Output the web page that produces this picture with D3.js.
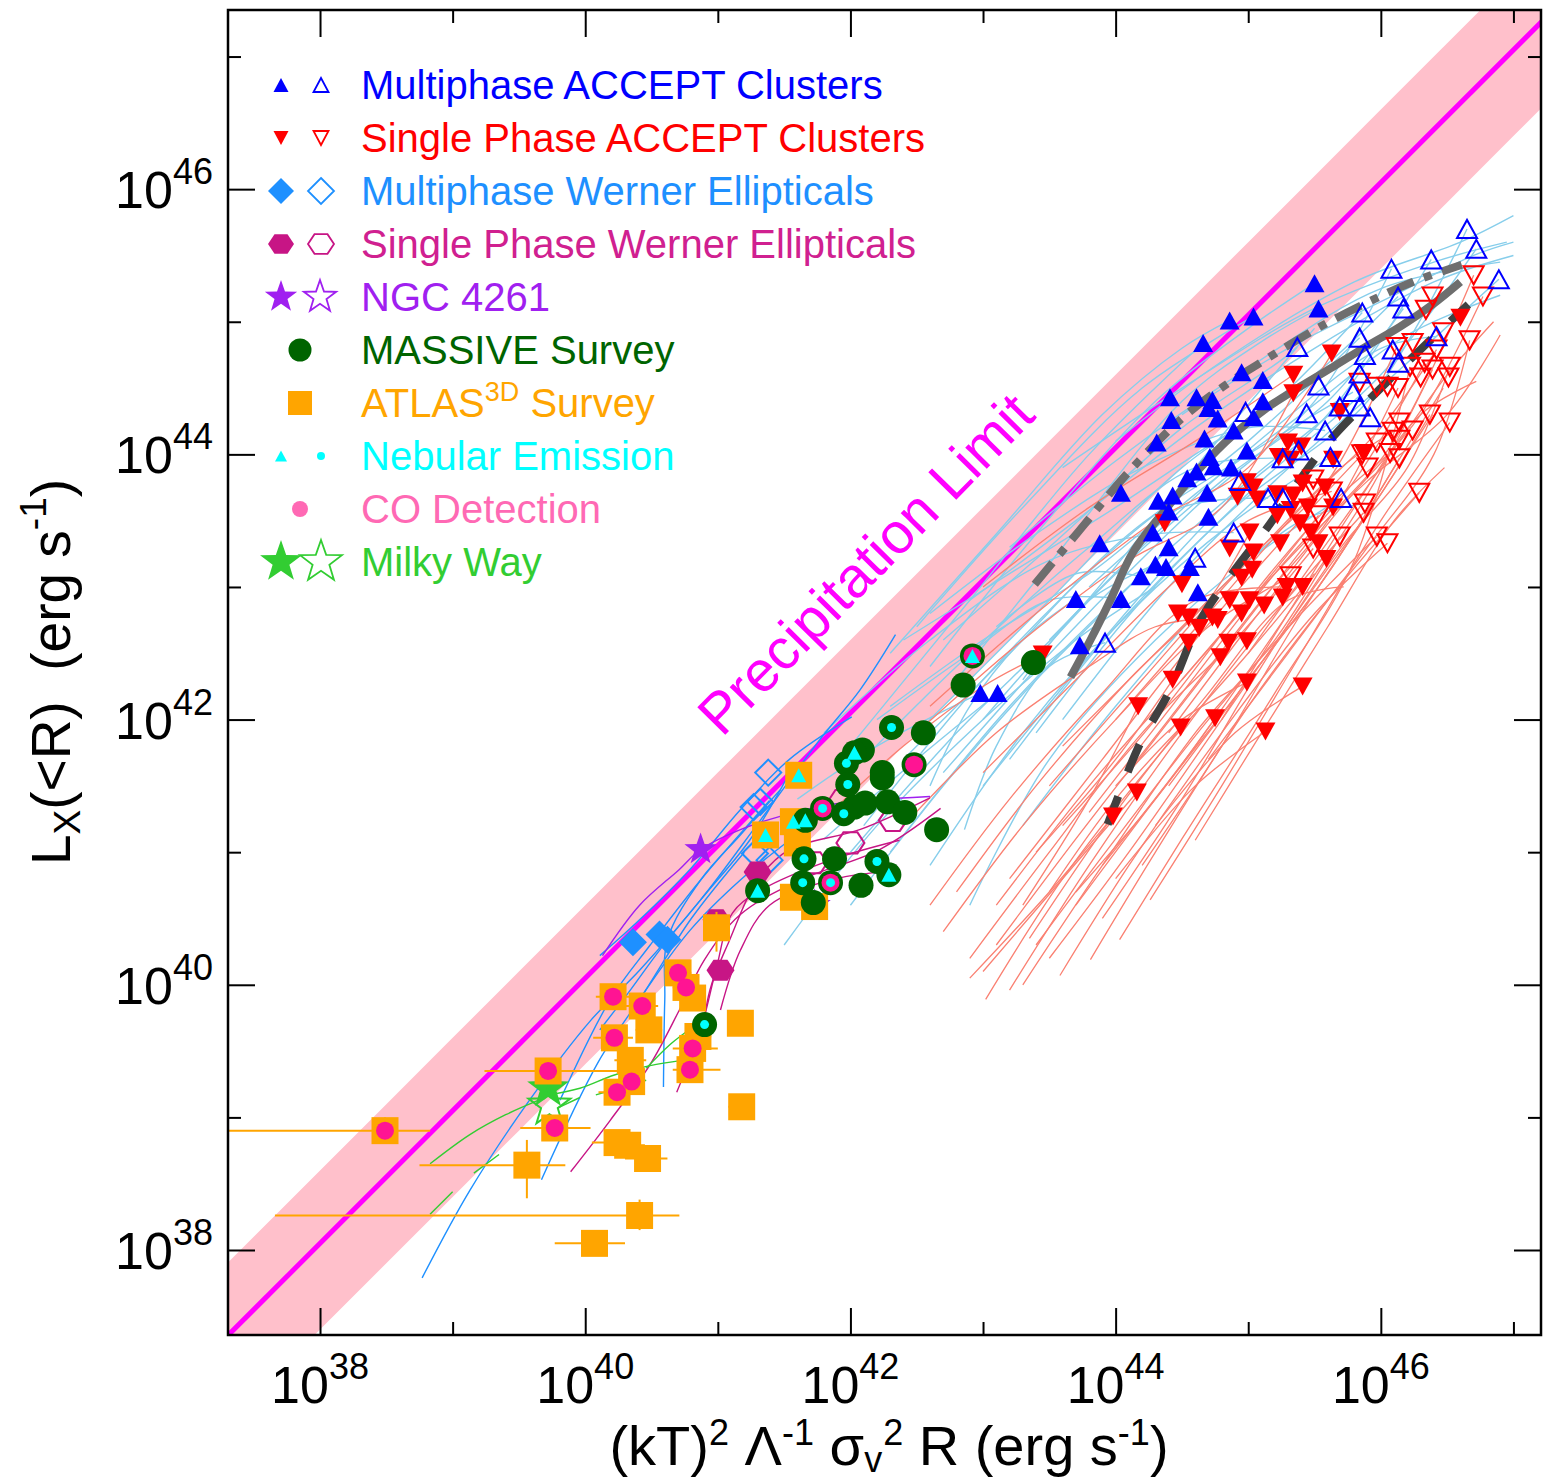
<!DOCTYPE html>
<html>
<head>
<meta charset="utf-8">
<script src="https://cdn.jsdelivr.net/npm/d3@7"></script>
<style>
body { margin: 0; background: #fff; }
svg { display: block; font-family: "Liberation Sans", Arial, Helvetica, sans-serif; }
</style>
</head>
<body>
<div id="chart"></div>
<script>
"use strict";

// all values are log10 of erg/s : [log x, log y]
var xTicksMajor = [38, 40, 42, 44, 46];
var xTicksMinor = [39, 41, 43, 45, 47];
var yTicksMajor = [38, 40, 42, 44, 46];
var yTicksMinor = [39, 41, 43, 45, 47];

var multiFilled = [[45.50,45.29],[45.53,45.10],[44.86,45.01],[45.04,45.04],[44.66,44.84],[44.95,44.62],[45.11,44.56],[44.41,44.43],[44.61,44.43],[44.73,44.41],[44.70,44.35],[44.77,44.27],[44.42,44.26],[45.11,44.40],[45.04,44.28],[44.89,44.18],[44.67,44.12],[44.31,44.09],[44.99,44.03],[44.71,43.98],[44.74,43.91],[44.87,43.90],[44.61,43.87],[44.54,43.82],[44.04,43.71],[44.43,43.69],[44.32,43.65],[44.40,43.57],[44.69,43.71],[44.70,43.53],[44.28,43.41],[43.88,43.33],[44.40,43.30],[44.30,43.17],[44.38,43.15],[44.56,43.15],[44.19,43.08],[44.62,42.96],[44.04,42.91],[43.70,42.91],[43.73,42.56],[42.98,42.20],[43.11,42.20]];
var multiOpen = [[46.65,45.70],[46.72,45.55],[46.38,45.47],[46.08,45.40],[46.89,45.32],[46.13,45.19],[46.17,45.10],[45.86,45.07],[45.84,44.88],[45.37,44.81],[45.88,44.75],[46.09,44.79],[46.42,44.89],[46.13,44.69],[45.84,44.61],[45.53,44.52],[45.79,44.47],[45.69,44.36],[45.84,44.36],[45.44,44.31],[45.92,44.28],[44.98,44.32],[45.58,44.18],[45.38,44.03],[45.26,43.97],[45.62,43.98],[44.94,43.80],[45.15,43.67],[45.26,43.67],[45.70,43.67],[44.89,43.41],[44.60,43.22],[43.92,42.58]];
var singleFilled = [[45.63,44.76],[45.34,44.60],[45.34,44.46],[45.69,44.32],[46.60,45.03],[45.30,44.09],[45.40,44.06],[45.23,43.98],[45.32,43.96],[44.99,43.79],[45.04,43.75],[44.92,43.68],[45.07,43.66],[45.22,43.70],[45.34,43.69],[45.41,43.78],[45.58,43.75],[45.64,43.60],[45.45,43.60],[45.32,43.58],[45.22,43.54],[45.39,43.48],[45.47,43.41],[45.53,43.33],[45.59,43.21],[45.01,43.41],[45.24,43.33],[44.86,43.29],[45.04,43.26],[45.03,43.13],[44.95,43.07],[44.50,43.02],[45.29,43.00],[45.41,43.00],[45.26,42.92],[45.01,42.90],[44.95,42.80],[44.47,42.80],[44.55,42.77],[44.73,42.77],[44.77,42.75],[45.87,44.01],[45.64,43.96],[44.37,43.48],[44.43,42.30],[44.17,42.10],[44.49,41.94],[44.75,42.01],[44.99,42.28],[45.41,42.25],[45.13,41.91],[44.16,41.45],[43.98,41.27],[44.79,42.47],[44.99,42.59],[44.85,42.58],[44.55,42.58],[43.45,42.49],[44.63,42.69],[45.12,42.86],[44.86,42.90]];
var singleOpen = [[46.70,45.35],[46.77,45.19],[46.39,45.19],[46.34,45.09],[46.47,44.92],[46.67,44.86],[46.24,44.84],[46.12,44.81],[46.42,44.79],[46.22,44.66],[46.33,44.69],[46.39,44.64],[46.52,44.66],[46.30,44.58],[46.51,44.58],[45.97,44.51],[46.05,44.51],[46.13,44.50],[45.84,44.54],[46.37,44.30],[46.52,44.24],[46.14,44.24],[46.24,44.18],[46.09,44.17],[46.14,44.11],[45.97,44.09],[46.07,44.01],[46.14,43.97],[45.86,44.00],[45.90,43.90],[46.29,43.71],[45.88,43.63],[45.87,43.56],[45.69,43.38],[45.97,43.38],[46.05,43.33],[45.49,43.81],[45.50,43.72],[45.63,43.72],[45.53,43.54],[45.49,43.29],[45.32,43.08]];

// surface brightness profiles of the clusters
var multiTracks = [
  [[44.0,44.1],[44.8,44.7],[45.8,45.3],[46.6,45.6],[47.0,45.8]],
  [[43.6,43.9],[44.5,44.5],[45.5,45.1],[46.4,45.45],[46.95,45.6]],
  [[43.2,43.3],[44.0,43.95],[45.0,44.65],[46.0,45.25],[46.9,45.45]],
  [[42.7,42.6],[43.5,43.3],[44.5,44.2],[45.3,44.75],[45.5,44.95]],
  [[42.6,42.4],[43.4,43.4],[44.3,44.4],[45.0,44.95],[45.5,45.29]],
  [[42.8,42.3],[43.6,43.3],[44.5,44.4],[45.1,44.85],[45.53,45.1]],
  [[42.3,42.5],[43.1,43.4],[43.9,44.3],[44.5,44.8],[44.86,45.01]],
  [[42.5,42.7],[43.3,43.6],[44.2,44.5],[45.04,45.04]],
  [[42.0,41.8],[42.9,42.9],[43.8,44.0],[44.66,44.84]],
  [[42.5,41.9],[43.5,42.9],[44.5,43.9],[45.5,44.6],[46.13,45.19]],
  [[42.7,41.6],[43.6,42.6],[44.6,43.6],[45.5,44.4],[46.08,45.40]],
  [[43.0,41.5],[43.9,42.6],[44.8,43.6],[45.6,44.3],[46.38,45.47]],
  [[43.2,41.7],[44.0,42.7],[44.9,43.6],[45.9,44.4],[46.65,45.70]],
  [[43.4,41.9],[44.2,42.9],[45.1,43.8],[46.0,44.6],[46.72,45.55]],
  [[43.6,42.0],[44.4,43.0],[45.2,43.8],[46.1,44.6],[46.89,45.32]],
  [[42.1,41.2],[43.0,42.3],[44.0,43.3],[45.0,44.1],[45.84,44.88]],
  [[42.3,41.0],[43.2,42.1],[44.2,43.1],[45.0,43.8],[45.69,44.36]],
  [[41.9,41.5],[42.8,42.4],[43.8,43.3],[44.6,43.9],[45.26,43.97]],
  [[42.6,40.9],[43.3,41.9],[44.1,42.8],[44.9,43.5],[45.62,43.98]],
  [[42.9,40.6],[43.5,41.7],[44.3,42.6],[45.0,43.2],[45.7,43.67]],
  [[41.8,41.9],[42.6,42.6],[43.5,43.2],[44.3,43.4],[44.89,43.41]],
  [[41.6,41.4],[42.2,41.8],[42.98,42.2]],
  [[41.8,41.1],[42.5,41.7],[43.11,42.2]],
  [[42.86,41.17],[43.1,41.8],[43.5,42.4],[43.92,42.58]],
  [[42.6,41.5],[42.9,42.1],[43.3,42.6],[43.70,42.91]],
  [[42.2,42.0],[42.9,42.5],[43.5,42.9],[44.04,42.91]],
  [[43.3,42.3],[43.8,42.9],[44.30,43.17]],
  [[43.1,42.7],[43.7,43.1],[44.19,43.08]],
  [[42.4,42.6],[43.2,43.1],[44.0,43.6],[44.6,44.0],[45.2,44.4],[45.86,45.07]],
  [[43.5,42.6],[44.3,43.4],[45.2,44.2],[46.0,44.8],[46.42,44.89]],
  [[43.0,42.0],[43.9,43.0],[44.8,43.8],[45.6,44.4],[46.17,45.10]],
  [[42.9,42.9],[43.7,43.5],[44.6,44.2],[45.5,44.8],[46.4,45.3],[47.0,45.5]],
  [[43.8,43.0],[44.6,43.7],[45.4,44.3],[46.2,44.9],[46.9,45.2]],
  [[42.4,41.7],[43.2,42.5],[44.1,43.4],[45.0,44.0],[45.79,44.47]],
  [[42.0,41.0],[42.8,41.9],[43.7,42.8],[44.6,43.9],[45.37,44.81]],
  [[43.3,41.2],[44.0,42.1],[44.8,43.0],[45.4,43.5],[45.88,43.63]],
  [[41.5,40.3],[42.2,41.2],[43.0,42.0],[43.7,42.6],[44.3,43.0]],
  [[42.0,40.6],[42.7,41.5],[43.4,42.3],[44.0,42.9],[44.4,43.3]],
  [[42.3,42.1],[43.0,42.6],[43.8,43.1],[44.5,43.6],[45.15,43.67]],
  [[42.6,42.8],[43.4,43.4],[44.2,43.9],[45.0,44.2],[45.58,44.18]],
  [[44.5,44.3],[45.3,44.8],[46.1,45.2],[46.7,45.5],[47.0,45.6]]
];
var singleTracks = [
  [[43.02,39.89],[43.6,40.8],[44.3,41.7],[45.0,42.5],[45.5,43.1]],
  [[43.2,39.96],[43.8,40.9],[44.5,41.9],[45.2,42.8],[45.87,43.56]],
  [[43.58,40.07],[44.1,40.9],[44.8,41.9],[45.5,42.8],[46.05,43.33]],
  [[43.81,40.19],[44.3,41.0],[45.0,42.1],[45.6,42.9],[46.29,43.71]],
  [[44.03,40.34],[44.5,41.1],[45.2,42.2],[45.8,43.2],[46.22,44.66]],
  [[44.26,40.64],[44.8,41.5],[45.4,42.5],[46.0,43.5],[46.52,44.24]],
  [[44.6,41.09],[45.1,41.9],[45.6,42.7],[46.1,43.5],[46.48,43.9]],
  [[42.7,40.4],[43.3,41.2],[44.0,42.0],[44.7,42.7],[45.32,43.08]],
  [[42.9,40.2],[43.5,41.0],[44.2,41.9],[44.9,42.6],[45.49,43.29]],
  [[43.3,40.0],[43.9,40.9],[44.6,41.9],[45.2,42.6],[45.69,43.38]],
  [[43.4,40.3],[44.0,41.1],[44.7,42.0],[45.4,42.8],[45.97,43.38]],
  [[43.7,40.6],[44.3,41.4],[45.0,42.3],[45.6,43.1],[46.14,43.97]],
  [[43.9,40.9],[44.6,41.8],[45.3,42.8],[45.9,43.7],[46.39,44.64]],
  [[42.9,40.05],[43.5,40.7],[43.98,41.27]],
  [[43.0,40.1],[43.6,40.8],[44.16,41.45]],
  [[43.3,40.6],[43.8,41.4],[44.17,42.1]],
  [[43.5,40.7],[44.0,41.4],[44.49,41.94]],
  [[43.7,40.7],[44.3,41.4],[44.75,42.01]],
  [[44.0,40.8],[44.6,41.5],[45.13,41.91]],
  [[44.3,41.2],[44.9,41.9],[45.41,42.25]],
  [[43.4,41.0],[44.0,41.7],[44.43,42.30]],
  [[44.0,41.5],[44.5,42.0],[44.99,42.28]],
  [[41.8,41.25],[42.4,41.8],[43.0,42.25],[43.45,42.49]],
  [[42.5,41.9],[43.3,42.6],[44.1,43.2],[44.8,43.6],[45.34,44.46]],
  [[43.0,43.0],[43.8,43.6],[44.6,44.1],[45.34,44.60]],
  [[42.6,42.1],[43.4,42.8],[44.3,43.5],[45.0,43.9],[45.63,44.76]],
  [[43.5,41.5],[44.2,42.3],[45.0,43.2],[45.6,43.8],[46.12,44.81]],
  [[43.8,41.3],[44.5,42.2],[45.2,43.1],[45.8,43.8],[46.33,44.69]],
  [[44.1,41.6],[44.8,42.5],[45.5,43.4],[46.1,44.1],[46.70,45.35]],
  [[44.4,41.9],[45.0,42.7],[45.7,43.6],[46.3,44.3],[46.77,45.19]],
  [[44.0,42.0],[44.7,42.8],[45.4,43.6],[46.0,44.2],[46.42,44.79]],
  [[43.6,41.8],[44.4,42.6],[45.1,43.3],[45.7,43.9],[46.09,44.17]],
  [[44.7,41.7],[45.3,42.5],[45.9,43.3],[46.4,44.0],[46.67,44.86]],
  [[43.1,40.6],[43.8,41.5],[44.5,42.3],[45.1,43.0],[45.53,43.54]],
  [[42.8,40.7],[43.4,41.5],[44.1,42.3],[44.7,42.9],[45.01,43.41]],
  [[43.35,40.35],[44.0,41.3],[44.7,42.2],[45.3,42.9],[45.72,43.0]],
  [[44.5,42.3],[45.2,43.1],[45.9,43.8],[46.5,44.3],[46.9,44.9]],
  [[43.1,40.3],[43.7,41.1],[44.4,42.0],[45.1,42.9],[45.6,43.5],[46.13,44.50]],
  [[43.5,40.2],[44.1,41.0],[44.8,42.0],[45.5,43.0],[46.0,43.7],[46.37,44.30]],
  [[43.9,40.5],[44.5,41.4],[45.1,42.4],[45.7,43.3],[46.2,43.9],[46.52,44.66]],
  [[44.2,40.9],[44.8,41.8],[45.4,42.8],[46.0,43.7],[46.39,44.3]],
  [[44.4,41.5],[45.0,42.3],[45.6,43.1],[46.1,43.9],[46.47,44.5]],
  [[43.2,40.8],[43.9,41.7],[44.6,42.6],[45.3,43.4],[45.86,44.00]],
  [[43.6,41.2],[44.3,42.0],[45.0,42.9],[45.6,43.6],[46.07,44.01]],
  [[42.6,40.6],[43.2,41.4],[43.9,42.2],[44.6,42.9],[45.29,43.00]],
  [[42.4,41.2],[43.1,41.9],[43.8,42.4],[44.3,42.7],[44.73,42.77]],
  [[44.8,42.0],[45.3,42.8],[45.8,43.6],[46.3,44.3],[46.72,44.55]],
  [[45.0,42.5],[45.5,43.2],[46.0,43.9],[46.5,44.6],[46.85,45.0]],
  [[43.0,41.6],[43.7,42.3],[44.4,43.0],[45.0,43.5],[45.63,43.72]]
];

// thick grey median profiles
var medianMulti = [[43.39,43.02],[43.73,43.43],[44.11,43.88],[44.51,44.28],[44.81,44.51],[45.09,44.69],[45.52,44.95],[45.97,45.18],[46.24,45.30],[46.61,45.43]];
var medianAll = [[43.66,42.32],[43.81,42.60],[43.96,42.90],[44.13,43.26],[44.39,43.60],[44.64,43.90],[44.89,44.15],[45.14,44.35],[45.39,44.51],[45.64,44.66],[45.90,44.82],[46.14,44.96],[46.39,45.13],[46.60,45.30]];
var medianSingle = [[43.94,41.21],[44.18,41.81],[44.41,42.22],[44.64,42.75],[44.90,43.13],[45.16,43.47],[45.39,43.81],[45.62,44.11],[45.99,44.49],[46.33,44.82],[46.66,45.13]];

// Werner ellipticals
var wernerMultiFilled = [[40.36,40.32],[40.56,40.38],[40.62,40.34]];
var wernerMultiOpen = [[41.38,41.60],[41.32,41.38],[41.27,41.34],[41.28,40.99],[41.39,40.94]];
var wernerMultiTracks = [
  [[38.77,37.79],[39.13,38.45],[39.58,39.13],[40.04,39.73],[40.41,40.11],[40.87,40.64],[41.32,41.24],[41.77,41.85],[42.07,42.22],[42.34,42.64]],
  [[40.11,40.22],[40.41,40.49],[40.79,40.87],[41.17,41.32],[41.54,41.70],[42.01,42.02]],
  [[40.59,39.23],[40.60,39.89],[40.62,40.34],[40.87,40.79],[41.17,41.13],[41.47,41.47]],
  [[40.11,39.66],[40.34,39.96],[40.56,40.26],[40.87,40.64],[41.24,41.09],[41.51,41.54]],
  [[40.41,39.89],[40.79,40.41],[41.17,40.79],[41.54,41.09]],
  [[39.81,39.13],[40.19,39.89],[40.49,40.30],[40.87,40.79],[41.39,41.39]],
  [[39.67,38.53],[40.1,39.42],[40.45,39.95],[40.8,40.5],[41.2,41.0]]
];
var wernerSingleFilled = [[41.30,40.85],[41.02,40.11],[40.99,40.49]];
var wernerSingleOpen = [[42.00,41.07],[42.32,41.24],[41.94,41.39],[41.72,40.92]];
var wernerSingleTracks = [
  [[39.89,38.59],[40.19,38.98],[40.49,39.40],[40.71,39.81],[40.90,40.19],[41.17,40.53],[41.62,40.79],[42.22,41.02],[42.68,41.33]],
  [[40.69,39.19],[40.87,39.66],[40.99,40.13],[41.11,40.54],[41.32,40.71],[41.85,40.94],[42.37,41.09]],
  [[40.87,39.51],[40.94,39.96],[41.09,40.34],[41.30,40.79],[41.54,41.02],[42.07,41.17],[42.60,41.41]],
  [[41.02,39.81],[41.17,40.26],[41.39,40.60],[41.85,40.79],[42.22,40.85]]
];

// NGC 4261
var ngcFilled = [[40.87,41.02]];
var ngcOpen = [[41.73,40.60]];
var ngcTrack = [[40.13,40.22],[40.41,40.60],[40.71,40.87],[40.87,41.02],[41.17,41.17],[41.47,41.27],[41.85,41.36],[42.60,41.42]];

// Milky Way
var mwFilled = [[39.72,39.22]];
var mwOpen = [[39.73,39.09]];
var mwTracks = [
  [[38.83,38.65],[39.13,38.87],[39.40,39.02],[39.65,39.13]],
  [[38.83,38.27],[39.00,38.44]],
  [[39.16,38.58],[39.35,38.72]],
  [[39.72,39.17],[39.96,39.22],[40.22,39.32],[40.49,39.39],[40.73,39.43]],
  [[40.08,39.17],[40.46,39.28]],
  [[40.46,39.37],[40.64,39.55],[40.81,39.68]],
  [[39.79,39.07],[39.96,39.15]]
];

// MASSIVE survey
var massive = [[42.31,41.94],[42.55,41.90],[41.97,41.67],[42.09,41.77],[42.03,41.75],[42.24,41.60],[42.24,41.56],[42.48,41.66],[41.98,41.51],[41.79,41.33],[41.66,41.24],[41.95,41.29],[42.03,41.34],[42.11,41.37],[42.28,41.38],[42.41,41.30],[42.65,41.17],[41.65,40.95],[41.88,40.95],[42.20,40.93],[42.29,40.83],[41.64,40.77],[41.85,40.77],[42.08,40.75],[41.72,40.62],[41.30,40.71],[43.38,42.43],[42.85,42.26],[42.92,42.48],[40.90,39.70]];

// ATLAS3D survey, with error ranges
var atlas = [[38.49,38.90],[39.72,39.35],[39.77,38.92],[39.56,38.64],[40.24,38.81],[40.32,38.79],[40.47,38.69],[40.41,38.26],[40.07,38.05],[41.18,39.08],[41.17,39.71],[40.21,39.91],[40.43,39.84],[40.22,39.60],[40.48,39.66],[40.34,39.43],[40.35,39.27],[40.24,39.19],[40.70,40.09],[40.76,39.98],[40.81,39.90],[40.81,39.52],[40.79,39.36],[40.85,39.61],[40.99,40.43],[41.61,41.58],[41.36,41.13],[41.57,41.23],[41.60,41.07],[41.57,40.66],[41.73,40.59]];
var atlasXLo = [37.30,39.24,39.51,38.75,40.05,40.15,40.30,37.66,39.77,41.08,41.08,40.08,40.30,40.06,40.38,40.22,40.25,40.10,40.60,40.66,40.71,40.66,40.66,40.75,40.92,41.55,41.30,41.50,41.55,41.50,41.66];
var atlasXHi = [38.83,40.30,40.04,39.85,40.40,40.45,40.62,40.71,40.30,41.28,41.26,40.34,40.55,40.36,40.58,40.46,40.45,40.38,40.80,40.86,40.91,41.00,41.02,40.95,41.06,41.67,41.42,41.64,41.66,41.64,41.80];
var atlasYLo = [38.82,39.30,38.88,38.39,38.76,38.74,38.64,38.15,38.00,39.02,39.65,39.86,39.79,39.55,39.61,39.38,39.22,39.14,40.04,39.93,39.85,39.47,39.31,39.56,40.25,41.53,41.08,41.18,41.02,40.61,40.54];
var atlasYHi = [39.00,39.42,38.98,38.83,38.86,38.84,38.74,38.38,38.10,39.14,39.77,39.96,39.89,39.65,39.71,39.48,39.32,39.24,40.14,40.03,39.95,39.57,39.41,39.66,40.55,41.63,41.18,41.28,41.12,40.71,40.64];

// nebular emission and CO detections, marked inside their host symbols
var nebTri = [[42.03,41.75],[41.66,41.24],[42.29,40.83],[41.30,40.71],[42.92,42.48],[41.61,41.58],[41.36,41.13],[41.57,41.23]];
var nebDot = [[42.31,41.94],[41.97,41.67],[41.98,41.51],[41.79,41.33],[41.95,41.29],[41.65,40.95],[42.20,40.93],[41.64,40.77],[41.85,40.77],[40.90,39.70]];
var coDet = [[42.48,41.66],[41.79,41.33],[41.85,40.77],[42.92,42.48],[38.49,38.90],[39.72,39.35],[39.77,38.92],[40.21,39.91],[40.43,39.84],[40.22,39.60],[40.35,39.27],[40.24,39.19],[40.70,40.09],[40.76,39.98],[40.81,39.52],[40.79,39.36]];

// precipitation limit: L_X = x, band of a factor 10^0.6 either side
var limitOffset = 0.05;
var bandHalfWidth = 0.6;
var limitLabelAt = [42.22, 43.07];

var legendLabels = ["Multiphase ACCEPT Clusters", "Single Phase ACCEPT Clusters", "Multiphase Werner Ellipticals", "Single Phase Werner Ellipticals", "NGC 4261", "MASSIVE Survey", "ATLAS3D Survey", "Nebular Emission", "CO Detection", "Milky Way"];
var legendColors = ["#0000ff", "#ff0000", "#1e90ff", "#d02090", "#a020f0", "#006400", "#ffa500", "#00ffff", "#ff69b4", "#32cd32"];

var W = 1543, H = 1480;
var X0 = 228, X1 = 1541, Y0 = 10, Y1 = 1335;
var p10 = function (v) { return Math.pow(10, v); };

var x = d3.scaleLog().domain([p10(37.306), p10(47.223)]).range([228, 1543]);
var y = d3.scaleLog().domain([p10(37.359), p10(47.351)]).range([1335, 10]);
var px = function (d) { return x(p10(d[0])); };
var py = function (d) { return y(p10(d[1])); };

var svg = d3.select('#chart').append('svg').attr('width', W).attr('height', H).attr('viewBox', '0 0 ' + W + ' ' + H);

svg.append('clipPath').attr('id', 'plotclip').append('rect')
  .attr('x', X0).attr('y', Y0).attr('width', X1 - X0).attr('height', Y1 - Y0);

var plot = svg.append('g').attr('clip-path', 'url(#plotclip)');

// band and limit line
var xs = d3.range(37.0, 47.6, 0.5);
var bandPts = xs.map(function (v) { return [v, v + bandHalfWidth]; })
  .concat(xs.slice().reverse().map(function (v) { return [v, v - bandHalfWidth]; }));
plot.append('path').attr('d', d3.line().x(px).y(py)(bandPts) + 'Z').style('fill', '#ffc0cb');
plot.append('path').datum([[37.0, 37.0 + limitOffset], [47.6, 47.6 + limitOffset]])
  .attr('d', d3.line().x(px).y(py)).style('fill', 'none').style('stroke', '#ff00ff').style('stroke-width', 5);

var line = d3.line().x(px).y(py).curve(d3.curveCatmullRom.alpha(0.5));

function drawTracks(data, color, width) {
  plot.append('g').selectAll('path').data(data).enter().append('path')
    .attr('d', line).style('fill', 'none').style('stroke', color).style('stroke-width', width);
}

drawTracks(multiTracks, '#87ceeb', 1.4);
drawTracks(singleTracks, '#fa8072', 1.3);
drawTracks(wernerMultiTracks, '#1e90ff', 1.4);
drawTracks(wernerSingleTracks, '#c71585', 1.4);
drawTracks([ngcTrack], '#a020f0', 1.4);
drawTracks(mwTracks, '#32cd32', 1.4);

// grey median curves
plot.append('path').datum(medianMulti).attr('d', line).style('fill', 'none').style('stroke', '#6e6e6e')
  .style('stroke-width', 8).style('stroke-dasharray', '28,11,8,11');
plot.append('path').datum(medianAll).attr('d', line).style('fill', 'none').style('stroke', '#6e6e6e')
  .style('stroke-width', 8);
plot.append('path').datum(medianSingle).attr('d', line).style('fill', 'none').style('stroke', '#404040')
  .style('stroke-width', 8).style('stroke-dasharray', '30,26');

// symbol shapes
function triUp(w, h) { return 'M' + (-w / 2) + ',' + (h / 2) + 'L' + (w / 2) + ',' + (h / 2) + 'L0,' + (-h / 2) + 'Z'; }
function triDown(w, h) { return 'M' + (-w / 2) + ',' + (-h / 2) + 'L' + (w / 2) + ',' + (-h / 2) + 'L0,' + (h / 2) + 'Z'; }
function diamond(s) { return 'M0,' + (-s / 2) + 'L' + (s / 2) + ',0L0,' + (s / 2) + 'L' + (-s / 2) + ',0Z'; }
function hexagon(r) {
  var pts = d3.range(6).map(function (i) { var a = Math.PI / 3 * i; return [r * Math.cos(a), r * 0.87 * Math.sin(a)]; });
  return 'M' + pts.join('L') + 'Z';
}
function star(R) {
  var pts = d3.range(10).map(function (i) {
    var a = -Math.PI / 2 + Math.PI / 5 * i, rr = i % 2 ? R * 0.4 : R;
    return [rr * Math.cos(a), rr * Math.sin(a)];
  });
  return 'M' + pts.join('L') + 'Z';
}
function square(s) { return 'M' + (-s / 2) + ',' + (-s / 2) + 'h' + s + 'v' + s + 'h' + (-s) + 'Z'; }

function drawMarks(data, shape, fill, stroke, sw) {
  plot.append('g').selectAll('path').data(data).enter().append('path')
    .attr('d', shape)
    .attr('transform', function (d) { return 'translate(' + px(d) + ',' + py(d) + ')'; })
    .style('fill', fill).style('stroke', stroke || 'none').style('stroke-width', sw || 0);
}

// clusters
drawMarks(singleFilled, triDown(20, 18), '#ff0000');
drawMarks(multiFilled, triUp(20, 18), '#0000ff');
drawMarks(singleOpen, triDown(20, 18), 'none', '#ff0000', 2);
drawMarks(multiOpen, triUp(20, 18), 'none', '#0000ff', 2);

// ellipticals
drawMarks(wernerMultiOpen, diamond(26), 'none', '#1e90ff', 2);
drawMarks(wernerSingleOpen, hexagon(14), 'none', '#c71585', 2);
drawMarks(ngcOpen, star(17), '#a020f0');
drawMarks(wernerSingleFilled, hexagon(14), '#c71585');
drawMarks(ngcFilled, star(17), '#a020f0');
drawMarks(mwFilled, star(22), '#32cd32');
drawMarks(mwOpen, star(22), 'none', '#32cd32', 2);
drawMarks(wernerMultiFilled, diamond(28), '#1e90ff');

// ATLAS3D error bars and squares
var eb = plot.append('g').style('stroke', '#ffa500').style('stroke-width', 2);
eb.selectAll('.ex').data(atlas).enter().append('line')
  .attr('x1', function (d, i) { return x(p10(atlasXLo[i])); })
  .attr('x2', function (d, i) { return x(p10(atlasXHi[i])); })
  .attr('y1', py).attr('y2', py);
eb.selectAll('.ey').data(atlas).enter().append('line')
  .attr('y1', function (d, i) { return y(p10(atlasYLo[i])); })
  .attr('y2', function (d, i) { return y(p10(atlasYHi[i])); })
  .attr('x1', px).attr('x2', px);
drawMarks(atlas, square(27), '#ffa500');

drawMarks(massive, d3.symbol().type(d3.symbolCircle).size(Math.PI * 12.5 * 12.5), '#006400');
drawMarks(coDet, d3.symbol().type(d3.symbolCircle).size(Math.PI * 9 * 9), '#ff1493');
drawMarks(nebDot, d3.symbol().type(d3.symbolCircle).size(Math.PI * 4.5 * 4.5), '#00ffff');
drawMarks(nebTri, triUp(15, 14), '#00ffff');

// precipitation label
svg.append('text')
  .attr('transform', 'translate(' + px(limitLabelAt) + ',' + py(limitLabelAt) + ') rotate(-45.5)')
  .attr('text-anchor', 'middle').style('font-size', '57px').style('fill', '#ff00ff')
  .text('Precipitation Limit');

// frame and ticks
function tickAxis(axis, vals, size, tr) {
  svg.append('g').attr('transform', tr)
    .call(axis.tickValues(vals.map(p10)).tickSize(size).tickFormat(''))
    .call(function (g) { g.select('.domain').remove(); g.selectAll('line').style('stroke', '#000').style('stroke-width', 2); });
}
tickAxis(d3.axisBottom(x), xTicksMajor, -27, 'translate(0,' + Y1 + ')');
tickAxis(d3.axisBottom(x), xTicksMinor, -13, 'translate(0,' + Y1 + ')');
tickAxis(d3.axisTop(x), xTicksMajor, -27, 'translate(0,' + Y0 + ')');
tickAxis(d3.axisTop(x), xTicksMinor, -13, 'translate(0,' + Y0 + ')');
tickAxis(d3.axisLeft(y), yTicksMajor, -27, 'translate(' + X0 + ',0)');
tickAxis(d3.axisLeft(y), yTicksMinor, -13, 'translate(' + X0 + ',0)');
tickAxis(d3.axisRight(y), yTicksMajor, -27, 'translate(' + X1 + ',0)');
tickAxis(d3.axisRight(y), yTicksMinor, -13, 'translate(' + X1 + ',0)');

svg.append('rect').attr('x', X0).attr('y', Y0).attr('width', X1 - X0).attr('height', Y1 - Y0)
  .style('fill', 'none').style('stroke', '#000').style('stroke-width', 2.5);

// tick labels
var xl = svg.append('g').selectAll('text').data(xTicksMajor).enter().append('text')
  .attr('x', function (d) { return x(p10(d)); }).attr('y', 1403)
  .attr('text-anchor', 'middle').style('font-size', '52px').style('fill', '#000');
xl.append('tspan').text('10');
xl.append('tspan').attr('dy', -24).style('font-size', '36px').text(function (d) { return d; });

var yl = svg.append('g').selectAll('text').data(yTicksMajor).enter().append('text')
  .attr('x', 213).attr('y', function (d) { return y(p10(d)) + 19; })
  .attr('text-anchor', 'end').style('font-size', '52px').style('fill', '#000');
yl.append('tspan').text('10');
yl.append('tspan').attr('dy', -24).style('font-size', '36px').text(function (d) { return d; });

// axis titles
var xt = svg.append('text').attr('x', 889).attr('y', 1465).attr('text-anchor', 'middle')
  .style('font-size', '56px').style('fill', '#000').style('white-space', 'pre');
xt.append('tspan').text('(kT)');
xt.append('tspan').attr('dy', -20).style('font-size', '36px').text('2');
xt.append('tspan').attr('dy', 20).text(' \u039b');
xt.append('tspan').attr('dy', -20).style('font-size', '36px').text('-1');
xt.append('tspan').attr('dy', 20).text(' \u03c3');
xt.append('tspan').attr('dy', 7).style('font-size', '36px').text('v');
xt.append('tspan').attr('dx', 1).attr('dy', -27).style('font-size', '36px').text('2');
xt.append('tspan').attr('dy', 20).text(' R (erg s');
xt.append('tspan').attr('dy', -20).style('font-size', '36px').text('-1');
xt.append('tspan').attr('dy', 20).text(')');

var yt = svg.append('text').attr('transform', 'translate(70,672) rotate(-90)').attr('text-anchor', 'middle')
  .style('font-size', '55px').style('fill', '#000').style('white-space', 'pre');
yt.append('tspan').text('L');
yt.append('tspan').attr('dy', 10).style('font-size', '37px').text('X');
yt.append('tspan').attr('dy', -10).text('(<R)  (erg s');
yt.append('tspan').attr('dy', -24).style('font-size', '37px').text('-1');
yt.append('tspan').attr('dy', 24).text(')');

// legend
var leg = svg.append('g');
var rowY = function (i) { return 85 + i * 53; };
legendLabels.forEach(function (lab, i) {
  var t = leg.append('text').attr('x', 361).attr('y', rowY(i) + 14).style('font-size', '40px').style('fill', legendColors[i]);
  if (lab.indexOf('3D') > 0) {
    t.append('tspan').text('ATLAS');
    t.append('tspan').attr('dy', -16).style('font-size', '27px').text('3D');
    t.append('tspan').attr('dy', 16).text(' Survey');
  } else {
    t.text(lab);
  }
});
function legMark(i, cx, shape, fill, stroke, sw) {
  leg.append('path').attr('d', shape).attr('transform', 'translate(' + cx + ',' + rowY(i) + ')')
    .style('fill', fill).style('stroke', stroke || 'none').style('stroke-width', sw || 0);
}
legMark(0, 281, triUp(15, 14), '#0000ff');
legMark(0, 321, triUp(15, 14), 'none', '#0000ff', 1.8);
legMark(1, 281, triDown(15, 14), '#ff0000');
legMark(1, 321, triDown(15, 14), 'none', '#ff0000', 1.8);
legMark(2, 281, diamond(26), '#1e90ff');
legMark(2, 321, diamond(26), 'none', '#1e90ff', 1.8);
legMark(3, 281, hexagon(13), '#c71585');
legMark(3, 321, hexagon(13), 'none', '#c71585', 1.8);
legMark(4, 281, star(17), '#a020f0');
legMark(4, 320, star(17), 'none', '#a020f0', 1.8);
legMark(5, 300, d3.symbol().type(d3.symbolCircle).size(Math.PI * 11.5 * 11.5)(), '#006400');
legMark(6, 300, square(24), '#ffa500');
legMark(7, 281, triUp(12, 11), '#00ffff');
legMark(7, 321, d3.symbol().type(d3.symbolCircle).size(Math.PI * 4 * 4)(), '#00ffff');
legMark(8, 300, d3.symbol().type(d3.symbolCircle).size(Math.PI * 8 * 8)(), '#ff69b4');
legMark(9, 281, star(22), '#32cd32');
legMark(9, 321, star(22), 'none', '#32cd32', 1.8);
</script>
</body>
</html>
